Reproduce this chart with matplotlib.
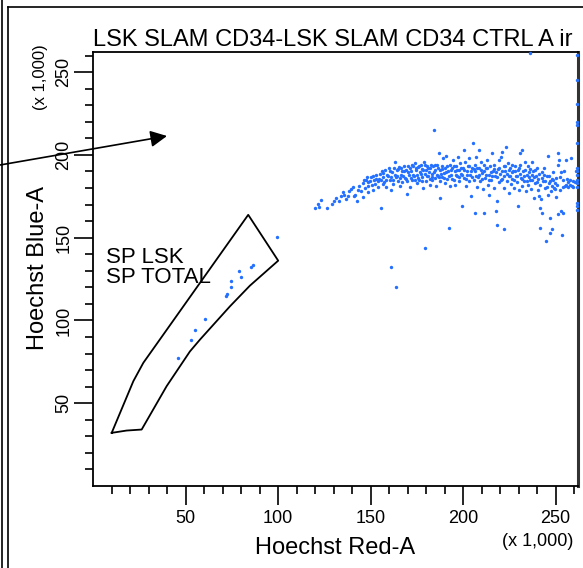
import matplotlib
matplotlib.use("Agg")
import matplotlib.pyplot as plt
from matplotlib import font_manager
from matplotlib.lines import Line2D
from matplotlib.patches import FancyArrowPatch

# ---- fonts -------------------------------------------------------------
_names = {f.name for f in font_manager.fontManager.ttflist}
FONT = "Liberation Sans Narrow" if "Liberation Sans Narrow" in _names else "Liberation Sans"
plt.rcParams["font.family"] = [FONT, "DejaVu Sans"]

# ---- data (values in thousands) ---------------------------------------
title = "LSK SLAM CD34-LSK SLAM CD34 CTRL A ir"
x_label = "Hoechst Red-A"
y_label = "Hoechst Blue-A"
scale_note = "(x 1,000)"
gate_labels = ["SP LSK", "SP TOTAL"]
axis_max = 262.144
major_ticks = [50, 100, 150, 200, 250]
minor_ticks = [v for v in range(10, 261, 10) if v % 50]

# side-population gate outline
gate_x = [10.1, 21.8, 27.2, 83.9, 100.1, 84.8, 74.0, 57.8, 52.4, 39.8, 26.3, 18.2, 10.1]
gate_y = [32.1, 63.3, 74.4, 163.8, 136.1, 121.0, 108.5, 88.4, 81.3, 60.3, 34.1, 33.5, 32.1]

# events inside the gate
gate_evt_x = [99.5, 86.6, 85.5, 79.0, 80.0, 74.7, 74.7, 72.6, 72.0, 60.8, 55.4, 53.2, 45.7]
gate_evt_y = [150.3, 133.5, 132.3, 130.0, 126.3, 124.0, 120.4, 116.0, 115.0, 101.0, 94.0, 88.0, 77.2]

# main population
main_x = [
    120.1, 122.1, 121.5, 123.3, 126.5, 129.2, 130.5, 131.4, 133.2, 134.1, 135.0, 135.9, 136.7, 137.6,
    138.5, 139.4, 140.3, 140.9, 141.8, 142.5, 143.0, 143.9, 144.8, 145.7, 146.1, 147.1, 147.5, 148.4,
    148.9, 149.6, 150.2, 150.7, 151.1, 152.0, 152.9, 153.8, 154.3, 154.7, 155.6, 156.1, 156.5, 157.0,
    157.7, 158.3, 158.6, 159.1, 160.0, 160.6, 161.3, 161.8, 162.4, 163.1, 163.6, 164.2, 164.9, 165.4,
    165.8, 166.3, 166.9, 167.2, 168.1, 168.6, 169.0, 169.5, 169.9, 170.4, 170.8, 171.3, 172.0, 172.6,
    173.1, 173.5, 174.0, 174.4, 174.9, 175.3, 175.8, 176.2, 176.7, 177.1, 177.6, 178.0, 178.3, 178.9,
    179.2, 179.8, 180.1, 180.6, 181.0, 181.5, 182.1, 182.4, 183.0, 183.3, 183.9, 184.2, 184.6, 185.1,
    185.5, 186.0, 186.6, 186.9, 187.3, 187.8, 187.8, 188.4, 188.7, 189.1, 189.6, 190.1, 190.5, 190.9,
    191.4, 191.9, 192.3, 192.7, 193.2, 193.6, 194.1, 194.5, 195.0, 195.5, 195.9, 196.2, 196.8, 197.3,
    197.7, 198.0, 198.6, 199.1, 199.5, 199.8, 200.4, 200.7, 201.3, 201.6, 202.2, 202.5, 203.1, 203.4,
    203.9, 204.5, 204.8, 205.2, 205.7, 206.3, 206.6, 207.0, 207.5, 208.1, 208.4, 208.8, 209.3, 209.7,
    210.2, 210.8, 211.1, 211.5, 212.0, 212.4, 212.9, 213.4, 213.8, 214.2, 214.7, 215.2, 215.6, 216.0,
    216.5, 217.0, 217.4, 217.9, 218.3, 218.3, 218.8, 219.2, 219.5, 220.1, 220.4, 221.0, 221.3, 221.9,
    222.4, 222.4, 222.8, 223.1, 223.7, 224.2, 224.6, 224.9, 225.5, 226.0, 226.3, 226.7, 227.2, 227.8,
    228.1, 228.7, 229.0, 229.6, 229.9, 230.3, 230.8, 230.8, 231.4, 231.7, 232.1, 232.6, 233.2, 233.5,
    233.9, 234.4, 234.9, 235.3, 235.7, 236.2, 236.7, 237.1, 237.5, 238.0, 238.5, 238.9, 239.2, 239.8,
    240.3, 240.7, 241.0, 241.6, 241.6, 242.1, 242.5, 242.8, 243.4, 243.7, 244.3, 244.6, 245.2, 245.7,
    246.1, 246.4, 247.0, 247.0, 247.5, 247.9, 248.2, 248.7, 249.3, 249.6, 250.0, 250.5, 251.1, 251.4,
    251.4, 251.8, 252.3, 252.9, 253.2, 253.6, 254.1, 254.7, 255.0, 255.4, 255.9, 256.5, 256.8, 257.7,
    258.6, 259.0, 259.5, 260.4, 261.3,
    146.6, 147.9, 148.9, 151.4, 152.5, 153.2, 155.0, 155.7, 156.8, 157.4, 159.7, 160.4, 161.1, 162.2,
    162.7, 163.3, 164.5, 165.1, 165.9, 166.7, 167.6, 168.3, 169.2, 170.1, 171.2, 171.7, 172.2, 172.9,
    173.8, 174.7, 175.5, 176.4, 177.2, 177.8, 178.5, 179.4, 180.3, 181.2, 181.9, 182.6, 183.5, 184.4,
    185.0, 185.7, 186.4, 187.1, 188.0, 188.9, 189.8, 190.7, 191.6, 192.5, 193.4, 194.3, 195.2, 196.1,
    197.0, 197.9, 198.8, 199.6, 200.5, 201.4, 202.3, 203.2, 204.1, 205.0, 205.9, 206.8, 207.7, 208.6,
    209.5, 210.4, 211.3, 212.2, 213.1, 214.0, 214.9, 215.8, 216.7, 217.6, 218.5, 219.4, 220.3, 221.1,
    222.0, 222.9, 223.8, 224.7, 225.6, 226.5, 227.4, 228.3, 229.2, 230.1, 231.0, 231.9, 232.8, 233.7,
    234.6, 235.5, 236.4, 237.3, 238.2, 239.1, 240.0, 240.9, 241.8, 242.7, 243.6, 244.5, 245.3, 246.2,
    247.1, 248.0, 248.9, 249.8, 250.7, 252.5, 254.3, 256.1, 257.9, 259.7,
    179.2, 160.8, 164.0, 206.5, 254.0,
]
main_y = [
    168.0, 168.6, 170.6, 173.0, 168.0, 170.6, 172.0, 173.8, 172.0, 175.0, 177.4, 176.0, 173.4, 175.0,
    178.0, 179.4, 180.6, 175.0, 176.0, 172.0, 179.0, 181.4, 178.0, 174.6, 183.0, 180.0, 185.0, 177.4,
    181.4, 184.0, 186.6, 182.0, 179.0, 185.0, 188.0, 184.0, 180.6, 185.4, 168.2, 190.0, 182.6, 186.6,
    191.0, 184.6, 180.6, 188.0, 192.0, 185.0, 179.0, 189.4, 182.6, 195.8, 186.6, 190.6, 184.0, 192.6,
    181.4, 188.0, 190.0, 183.4, 193.4, 186.0, 191.0, 176.6, 184.0, 193.0, 188.0, 180.6, 190.0, 185.0,
    193.4, 187.0, 195.0, 190.6, 183.0, 188.0, 192.4, 185.0, 189.4, 194.0, 186.6, 191.4, 180.0, 196.0,
    188.6, 191.0, 184.0, 193.0, 187.0, 189.4, 182.0, 192.0, 185.0, 188.6, 193.0, 214.9, 186.0, 190.6,
    181.4, 194.0, 187.4, 201.0, 184.0, 190.6, 174.0, 193.0, 186.6, 198.0, 189.0, 183.0, 192.0, 199.4,
    185.4, 190.0, 156.0, 194.0, 181.0, 188.0, 192.0, 197.0, 185.0, 190.0, 182.0, 193.4, 187.4, 199.0,
    191.0, 184.0, 195.0, 188.6, 169.4, 192.0, 203.0, 186.0, 196.0, 181.4, 190.0, 193.0, 184.0, 198.0,
    188.0, 175.4, 192.0, 207.0, 185.0, 194.0, 190.0, 198.6, 180.6, 186.6, 203.0, 192.0, 184.0, 196.0,
    189.0, 179.4, 194.0, 165.0, 186.0, 192.0, 197.0, 182.0, 188.0, 176.0, 193.4, 185.0, 201.0, 190.0,
    180.0, 194.0, 187.0, 166.0, 172.0, 157.4, 191.4, 183.4, 197.0, 188.6, 199.0, 185.4, 202.0, 193.0,
    155.0, 180.0, 190.0, 204.6, 184.0, 195.0, 187.4, 177.0, 192.0, 182.6, 194.0, 185.4, 190.0, 180.0,
    193.0, 187.0, 183.4, 191.0, 169.4, 178.6, 201.0, 194.0, 186.0, 203.0, 181.4, 190.0, 184.0, 195.4,
    178.0, 188.0, 193.0, 182.0, 186.6, 191.4, 179.4, 196.0, 185.0, 190.0, 174.0, 183.0, 187.4, 192.0,
    179.0, 185.4, 175.0, 156.0, 168.0, 173.4, 189.4, 164.6, 184.0, 192.0, 180.0, 148.0, 187.4, 199.4,
    176.0, 183.0, 153.0, 162.0, 178.0, 185.4, 155.0, 189.4, 180.0, 183.0, 174.6, 186.0, 201.4, 164.0,
    194.0, 197.0, 179.0, 189.4, 166.0, 151.4, 185.0, 190.0, 181.0, 197.0, 182.0, 183.4, 180.6, 184.6,
    198.0, 181.4, 184.0, 183.4, 190.0,
    184.6, 186.6, 183.4, 187.4, 182.6, 185.4, 188.6, 185.0, 189.0, 183.4, 187.4, 190.0, 186.6, 185.0,
    192.0, 188.0, 187.4, 191.4, 186.0, 192.0, 187.4, 190.0, 185.4, 189.4, 192.0, 186.0, 194.0, 188.0,
    184.6, 192.0, 186.0, 193.4, 188.6, 184.0, 190.6, 194.0, 187.4, 192.0, 185.4, 194.0, 186.6, 189.4,
    194.0, 188.0, 192.0, 186.6, 188.6, 191.4, 186.0, 189.4, 193.0, 187.4, 190.6, 185.4, 193.0, 188.0,
    191.0, 186.6, 192.0, 188.0, 191.0, 185.4, 188.0, 193.0, 190.0, 186.6, 191.4, 187.4, 192.0, 188.0,
    191.0, 185.4, 190.0, 188.0, 192.0, 184.6, 189.4, 187.0, 191.4, 189.4, 186.6, 192.0, 185.0, 190.0,
    187.4, 193.0, 188.6, 190.6, 187.0, 189.4, 185.0, 190.0, 187.4, 192.0, 188.6, 185.4, 187.0, 190.6,
    184.0, 189.4, 185.0, 188.0, 186.6, 190.6, 183.4, 188.6, 182.0, 186.0, 188.0, 184.0, 180.6, 187.4,
    184.0, 181.4, 185.0, 179.4, 182.0, 186.6, 180.6, 185.4, 182.0, 180.6,
    144.0, 132.0, 120.0, 164.7, 165.0,
]

# events piled up at the top of the scales
edge_x = [261.8] * 15 + [236.0]
edge_y = [260.5, 245.0, 231.0, 220.0, 218.0, 207.0, 192.0, 190.5, 188.0, 185.0, 183.0,
          180.5, 171.0, 169.0, 167.0, 261.6]

# ---- figure ------------------------------------------------------------
W, H = 583, 568
fig = plt.figure(figsize=(W / 100, H / 100), dpi=100)
fig.patch.set_facecolor("white")

ax = fig.add_axes([93 / W, 1 - 486 / H, (578 - 93) / W, (486 - 52) / H])
ax.set_xlim(0, axis_max)
ax.set_ylim(0, axis_max)

dot = dict(s=6, c="#2470ff", marker="o", linewidths=0, clip_on=False, zorder=3)
ax.scatter(main_x, main_y, **dot)
ax.scatter(gate_evt_x, gate_evt_y, **dot)
ax.scatter(edge_x, edge_y, **dot)

ax.plot(gate_x, gate_y, color="black", lw=1.3, zorder=4)
ax.text(7, 138, gate_labels[0], fontsize=16, va="center", ha="left")
ax.text(7, 126, gate_labels[1], fontsize=16, va="center", ha="left")

for s in ax.spines.values():
    s.set_linewidth(1.3)
    s.set_color("black")
ax.spines["right"].set_linewidth(2.2)
ax.spines["right"].set_color("#333333")

ax.set_xticks(major_ticks)
ax.set_yticks(major_ticks)
ax.set_xticks(minor_ticks, minor=True)
ax.set_yticks(minor_ticks, minor=True)
ax.set_xticklabels([str(v) for v in major_ticks])
ax.set_yticklabels([str(v) for v in major_ticks], rotation=90, va="center")
ax.tick_params(which="major", direction="out", length=14, width=1.2, labelsize=13, pad=3)
ax.tick_params(axis="y", which="major", pad=1)
ax.tick_params(which="minor", direction="out", length=6, width=1.2)

fig.text(335 / W, 1 - 548 / H, x_label, fontsize=17, ha="center", va="center")
fig.text(38 / W, 1 - 268 / H, y_label, fontsize=17, ha="center", va="center", rotation=90)
fig.text(538 / W, 1 - 541 / H, scale_note, fontsize=13, ha="center", va="center")
fig.text(40 / W, 1 - 77 / H, scale_note, fontsize=12, ha="center", va="center", rotation=90)
fig.text(93 / W, 1 - 40 / H, title, fontsize=17, ha="left", va="center")

# page frame
fig.add_artist(Line2D([1.5 / W, 1.5 / W], [0, 1], color="black", lw=1.2))
fig.add_artist(Line2D([7.5 / W, 7.5 / W], [0, 1 - 7 / H], color="black", lw=1.2))
fig.add_artist(Line2D([7.5 / W, 1], [1 - 7 / H, 1 - 7 / H], color="black", lw=1.2))

# pointer arrow
fig.add_artist(FancyArrowPatch(
    (0, 1 - 165 / H), (167 / W, 1 - 136 / H), transform=fig.transFigure,
    arrowstyle="-|>,head_length=10,head_width=5", color="black", lw=1.2,
    shrinkA=0, shrinkB=0))

fig.savefig("out.png", dpi=100)
